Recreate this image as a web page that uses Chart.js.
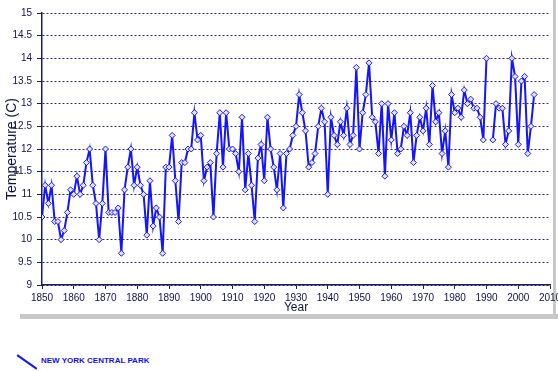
<!DOCTYPE html>
<html>
<head>
<meta charset="utf-8">
<script src="https://cdn.jsdelivr.net/npm/chart.js@4.4.0/dist/chart.umd.min.js"></script>
<style>
body { margin: 0; background: #fff; }
#wrap { position: relative; width: 558px; height: 371px; overflow: hidden; }
#c { position: absolute; left: 0; top: 0; }
.band { position: absolute; background: #c8c8c8; }
#swatch { position: absolute; left: 15px; top: 361px; width: 24px; height: 2px; background: #1414ff; transform: rotate(35deg); }
#legendText { position: absolute; left: 41px; top: 356px; line-height: 10px; font: bold 8px "Liberation Sans", Arial, sans-serif; color: #1010ee; }
</style>
</head>
<body>
<div id="wrap">
  <div class="band" style="left:553px; top:0; width:3px; height:318px;"></div>
  <div class="band" style="left:20px; top:314px; width:538px; height:5px;"></div>
  <canvas id="c" width="558" height="320"></canvas>
  <div id="swatch"></div>
  <div id="legendText"></div>
</div>
<script>
var seriesName = "NEW YORK CENTRAL PARK";

var years = [
    1850, 1851, 1852, 1853, 1854, 1855, 1856, 1857, 1858, 1859,
    1860, 1861, 1862, 1863, 1864, 1865, 1866, 1867, 1868, 1869,
    1870, 1871, 1872, 1873, 1874, 1875, 1876, 1877, 1878, 1879,
    1880, 1881, 1882, 1883, 1884, 1885, 1886, 1887, 1888, 1889,
    1890, 1891, 1892, 1893, 1894, 1895, 1896, 1897, 1898, 1899,
    1900, 1901, 1902, 1903, 1904, 1905, 1906, 1907, 1908, 1909,
    1910, 1911, 1912, 1913, 1914, 1915, 1916, 1917, 1918, 1919,
    1920, 1921, 1922, 1923, 1924, 1925, 1926, 1927, 1928, 1929,
    1930, 1931, 1932, 1933, 1934, 1935, 1936, 1937, 1938, 1939,
    1940, 1941, 1942, 1943, 1944, 1945, 1946, 1947, 1948, 1949,
    1950, 1951, 1952, 1953, 1954, 1955, 1956, 1957, 1958, 1959,
    1960, 1961, 1962, 1963, 1964, 1965, 1966, 1967, 1968, 1969,
    1970, 1971, 1972, 1973, 1974, 1975, 1976, 1977, 1978, 1979,
    1980, 1981, 1982, 1983, 1984, 1985, 1986, 1987, 1988, 1989,
    1990, 1991, 1992, 1993, 1994, 1995, 1996, 1997, 1998, 1999,
    2000, 2001, 2002, 2003, 2004, 2005
];

// mean annual temperature, C (1991 missing in the source)
var temps = [
    10.5, 11.2, 10.8, 11.2, 10.4, 10.4, 10.0, 10.2, 10.6, 11.1,
    11.0, 11.4, 11.0, 11.2, 11.7, 12.0, 11.2, 10.8, 10.0, 10.8,
    12.0, 10.6, 10.6, 10.6, 10.7, 9.7, 11.1, 11.6, 12.0, 11.2,
    11.6, 11.2, 11.0, 10.1, 11.3, 10.3, 10.7, 10.5, 9.7, 11.6,
    11.6, 12.3, 11.3, 10.4, 11.7, 11.7, 12.0, 12.0, 12.8, 12.2,
    12.3, 11.3, 11.6, 11.7, 10.5, 11.9, 12.8, 11.6, 12.8, 12.0,
    12.0, 11.9, 11.5, 12.7, 11.1, 11.9, 11.2, 10.4, 11.8, 12.1,
    11.3, 12.7, 12.0, 11.6, 11.1, 11.9, 10.7, 11.9, 12.0, 12.3,
    12.5, 13.2, 12.8, 12.4, 11.6, 11.7, 11.9, 12.5, 12.9, 12.6,
    11.0, 12.7, 12.3, 12.1, 12.6, 12.3, 12.9, 12.1, 12.3, 13.8,
    12.0, 12.8, 13.2, 13.9, 12.7, 12.6, 11.9, 13.0, 11.4, 13.0,
    12.2, 12.8, 11.9, 12.0, 12.5, 12.3, 12.8, 11.7, 12.3, 12.7,
    12.4, 12.9, 12.1, 13.4, 12.6, 12.8, 11.9, 12.4, 11.6, 13.2,
    12.8, 12.9, 12.7, 13.3, 13.0, 13.1, 12.9, 12.9, 12.7, 12.2,
    14.0, null, 12.2, 13.0, 12.9, 12.9, 12.1, 12.4, 14.0, 13.6,
    12.1, 13.5, 13.6, 11.9, 12.5, 13.2
];

var xTicks = [1850, 1860, 1870, 1880, 1890, 1900, 1910, 1920, 1930, 1940, 1950, 1960, 1970, 1980, 1990, 2000, 2010];
var yTicks = [9, 9.5, 10, 10.5, 11, 11.5, 12, 12.5, 13, 13.5, 14, 14.5, 15];

var navy = "#1c1c5c";
var textColor = "#10104a";
var fontFamily = '"Liberation Sans", Arial, sans-serif';

document.getElementById("legendText").textContent = seriesName;

var points = years.map(function (yr, i) {
    return { x: yr, y: temps[i] };
});

var ctx = document.getElementById("c");

var myChart = new Chart(ctx, {
    type: "line",
    data: {
        datasets: [{
            label: seriesName,
            data: points,
            borderColor: "#1414ff",
            borderWidth: 2,
            backgroundColor: "#dcdcff",
            pointStyle: "rectRot",
            pointRadius: 3,
            pointBorderWidth: 1,
            pointBorderColor: "#1414ff",
            pointBackgroundColor: "#e4e4ff",
            tension: 0,
            spanGaps: false
        }]
    },
    options: {
        responsive: false,
        animation: false,
        layout: { padding: { top: 13, right: 8, left: 0, bottom: 0 } },
        plugins: {
            legend: { display: false },
            tooltip: { enabled: false }
        },
        scales: {
            x: {
                type: "linear",
                min: 1850,
                max: 2010,
                afterBuildTicks: function (s) {
                    s.ticks = xTicks.map(function (v) { return { value: v }; });
                },
                afterFit: function (s) {
                    s.height = 35;
                    s.paddingLeft = 0;
                    s.paddingRight = 0;
                },
                grid: { drawOnChartArea: false, color: navy, tickLength: 4 },
                border: { color: navy, width: 1.5 },
                ticks: {
                    color: textColor,
                    font: { family: fontFamily, size: 10 },
                    padding: 3,
                    maxRotation: 0,
                    autoSkip: false,
                    callback: function (v) { return String(v); }
                },
                title: {
                    display: true,
                    text: "Year",
                    color: textColor,
                    font: { family: fontFamily, size: 12 },
                    padding: { top: 0, bottom: 5 }
                }
            },
            y: {
                min: 9,
                max: 15,
                afterBuildTicks: function (s) {
                    s.ticks = yTicks.map(function (v) { return { value: v }; });
                },
                afterFit: function (s) {
                    s.width = 42;
                    s.paddingTop = 0;
                    s.paddingBottom = 0;
                },
                grid: { color: "#2a2a80", tickColor: navy, tickLength: 5 },
                border: { color: navy, width: 1.5, dash: [2, 2] },
                ticks: {
                    color: textColor,
                    font: { family: fontFamily, size: 10 },
                    padding: 5,
                    callback: function (v) { return String(v); }
                },
                title: {
                    display: true,
                    text: "Temperature (C)",
                    color: textColor,
                    font: { family: fontFamily, size: 14 },
                    padding: { top: 4, bottom: 0 }
                }
            }
        }
    }
});
</script>
</body>
</html>
